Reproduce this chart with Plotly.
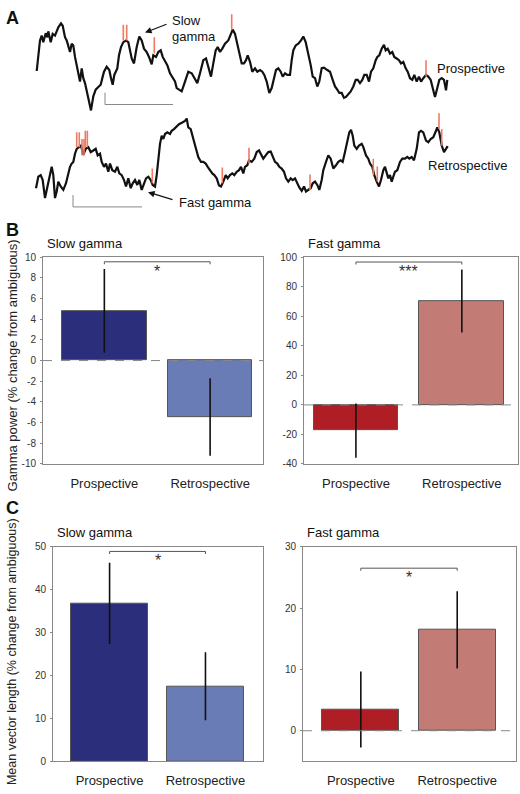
import plotly.graph_objects as go

W, H = 520, 794
FONT = "Liberation Sans, Arial, Helvetica, sans-serif"

# ---------------- data ----------------
categories = ["Prospective", "Retrospective"]

slow_power_mean = [4.8, -5.45]
slow_power_sem = [4.05, 3.75]
fast_power_mean = [-17.4, 70.3]
fast_power_sem = [18.4, 21.3]

slow_mvl_mean = [36.8, 17.5]
slow_mvl_sem = [9.45, 7.9]
fast_mvl_mean = [3.45, 16.45]
fast_mvl_sem = [6.2, 6.3]

sig_labels = ["*", "***", "*", "*"]
sig_heights = [9.55, 96.7, 48.9, 26.5]

slow_power_ticks = [-10, -8, -6, -4, -2, 0, 2, 4, 6, 8, 10]
fast_power_ticks = [-40, -20, 0, 20, 40, 60, 80, 100]
slow_mvl_ticks = [0, 10, 20, 30, 40, 50]
fast_mvl_ticks = [0, 10, 20, 30]

# Panel A example LFP traces (time, amplitude; screen-down axis)
prospective_trace = [
    (36.7, 66), (40, 35), (41.7, 30), (43.3, 36.7), (45.7, 27.7), (47.3, 31.7), (48.3, 25.7), (50.7, 36.7),
    (52.7, 28.3), (55, 30), (58.3, 21.7), (61, 17.7), (62.7, 20), (65, 31.7), (66.7, 35), (68.3, 41.7),
    (70, 46.7), (71.7, 38.3), (73.3, 40), (75, 51.7), (77.3, 63.3), (80, 76.7), (81.7, 63.3), (83.3, 73.3),
    (85, 78.3), (87.3, 88.3), (89.3, 96.7), (91, 106), (93.3, 91.7), (95.7, 85), (98.3, 82.3), (100.7, 80),
    (102.7, 71.7), (104, 66.7), (106.7, 61.7), (109.3, 65), (111, 73.3), (112.7, 80), (114.3, 70), (116, 65),
    (117.3, 63.3), (119, 50), (121, 41.7), (123.3, 36.7), (126, 35), (128.3, 36.7), (130, 46.7), (131.7, 53.3),
    (134, 58.3), (136.7, 41.7), (139.3, 31), (141.7, 35), (144, 43.3), (146.7, 46.7), (149, 51.7), (151.7, 59.3),
    (153.3, 50), (156, 51.7), (158.3, 46.7), (160.7, 45), (162.7, 51.7), (165, 56.7), (167.3, 60), (170, 68.3),
    (172.7, 73.3), (175, 76.7), (176.7, 83.3), (179, 85), (181.7, 86.7), (185, 76.7), (188.3, 66.7), (191.7, 68.3),
    (195, 75), (197.3, 78.3), (200, 68.3), (203.3, 55), (206, 53.3), (208.3, 63.3), (211, 71.7), (213.3, 58.3),
    (215.7, 45), (217.7, 41.7), (220, 46.7), (222.3, 43.3), (225, 38.3), (228.3, 35), (231, 28.3), (232.7, 24),
    (235, 28.3), (237.3, 38.3), (239.3, 48.3), (241.7, 58.3), (244, 58.3), (246, 55), (247.7, 50), (250, 56.7),
    (252.3, 66.7), (255, 63.3), (257.3, 66.7), (260, 65), (262.3, 66.7), (264.3, 70), (266.7, 76.7), (269.3, 88.3),
    (271.7, 83.3), (274, 71.7), (276, 65), (278.3, 63.3), (280.7, 66.7), (282.7, 71.7), (285, 68.3), (287.3, 70),
    (290, 70), (291.7, 55), (293.3, 45), (295.7, 40), (298.3, 38.3), (301, 35), (303.3, 31), (305.7, 36.7),
    (308.3, 48.3), (310.7, 60), (312.7, 71.7), (315, 73.3), (317.3, 81.7), (319.3, 76.7), (321.7, 63), (324, 62.5),
    (327.3, 65), (330, 66.7), (332.7, 75), (335, 81.7), (337.3, 85), (339.3, 88.3), (341.7, 88.3), (344, 93.3),
    (346, 92.3), (348.3, 90), (350.7, 86.7), (353.3, 81.7), (355.7, 75), (357.7, 75), (360, 78.3), (362.3, 75),
    (364.3, 70), (366.7, 70), (369, 76.7), (371, 66.7), (373.3, 63.3), (375.7, 55), (377.3, 51.7), (379.3, 50),
    (381.7, 43.3), (384, 39.3), (385.7, 45), (387.7, 43.3), (390, 48.3), (392.3, 46.7), (394.3, 51.7), (396.7, 53.3),
    (399, 55), (401, 58.3), (403.3, 56.7), (405.7, 63.3), (407.7, 66.7), (410, 73.3), (412.3, 75), (414.3, 70),
    (416.7, 76.7), (419, 71.7), (421, 76.7), (423.3, 73.3), (426, 70), (428.3, 71.7), (430.7, 75), (432.7, 83.3),
    (435, 92.3), (437.3, 83.3), (439.3, 75), (441.7, 73.3), (444, 75), (446, 85.7), (447.3, 75),
]

retrospective_trace = [
    (36, 185), (38.3, 173.3), (40.7, 171.7), (42.7, 176.7), (45, 195), (47.3, 185), (49.3, 175), (51.7, 163.3),
    (53.3, 171.7), (55, 195), (56.7, 188.3), (58.3, 178.3), (60.7, 183.3), (63.3, 186.7), (66, 180), (68.3, 170),
    (70, 163.3), (71.7, 160), (73.3, 158.3), (75, 150), (76.7, 145), (79, 143.3), (81, 141.7), (83.3, 151),
    (85.7, 145), (88.3, 143.3), (90.7, 148.3), (93.3, 146.7), (95.7, 145), (97.7, 151.7), (100, 150), (101.7, 158.3),
    (104, 163.3), (106, 160), (108.3, 168.3), (110, 160), (112.3, 166.7), (115, 168.3), (117.3, 163.3), (119.3, 170),
    (121.7, 171.7), (124, 176.7), (126, 183.3), (128.3, 175), (130.7, 185), (132.7, 180), (135, 176.7), (137.3, 181.7),
    (139.3, 176.7), (141.7, 186.7), (144, 180), (146, 175), (148.3, 173.3), (150.7, 176.7), (152.7, 181.7), (155, 183.3),
    (156.7, 171.7), (158.3, 155), (160, 140), (161.7, 131.7), (163.3, 135), (165, 130), (167.3, 128.3), (170, 130),
    (171.7, 126.7), (174, 125), (176.7, 121.7), (179, 120), (182.3, 118.3), (185, 116.7), (186.7, 114.3), (188.3, 123.3),
    (190.7, 125), (192.7, 131.7), (194.3, 138.3), (196, 145), (198.3, 153.3), (201, 158.3), (203.3, 158.3), (205.7, 160),
    (207.7, 163.3), (210, 166.7), (212.3, 170), (214.3, 171.7), (216.7, 175), (219, 182.3), (221, 183.3), (223.3, 178.3),
    (225.7, 171.7), (227.7, 175), (230, 171.7), (232.3, 170), (234.3, 171.7), (236.7, 168.3), (239, 166.7), (241, 163.3),
    (243.3, 170), (245, 163.3), (247.3, 161.7), (249, 156.7), (251.7, 158.3), (254.3, 155), (256.7, 148.3), (259, 146.7),
    (261, 150), (263.3, 155), (265.7, 151.7), (268.3, 148.3), (270.7, 147.7), (272.7, 153.3), (275, 158.3), (277.3, 160),
    (279.3, 163.3), (281.7, 165), (284, 168.3), (286, 175), (288.3, 178.3), (290.7, 175), (292.7, 176.7), (295, 175),
    (297.3, 180), (299.3, 184.3), (301.7, 187.7), (304, 183.3), (306, 188.3), (308.3, 186.7), (310.7, 185), (312.7, 180),
    (315, 178.3), (317.3, 181.7), (319.3, 186.7), (321.7, 176.7), (323.3, 166.7), (326, 158.3), (328.3, 151.7), (330.7, 155),
    (333.3, 165), (336, 161.7), (338.3, 158.3), (340.7, 156.7), (342.7, 158.3), (345, 148.3), (347.3, 138.3), (349.3, 128.3),
    (351, 125.7), (352.7, 131.7), (354.3, 141.7), (356.7, 145), (359, 141.7), (361.7, 140), (363.3, 143.3), (366, 151.7),
    (368.3, 155), (370, 160), (372.3, 163.3), (374.3, 171.7), (376.7, 178.3), (379, 183.3), (381, 176.7), (383.3, 166.7),
    (385, 163.3), (386.7, 168.3), (388.3, 175), (390, 171.7), (391.7, 178.3), (393.3, 173.3), (395, 168.3), (397.3, 166.7),
    (400, 158.3), (402.3, 155), (405, 155), (407.3, 153.3), (409.3, 155), (411.7, 153.3), (414, 156.7), (416.7, 145),
    (419, 128.3), (421, 126.7), (423.3, 128.3), (426, 136.7), (428.3, 138.3), (430.7, 135), (433.3, 133.3), (436, 126.7),
    (437.3, 123.3), (439.3, 128.3), (441.7, 141.7), (444, 148.3), (446, 145), (447.7, 142.3),
]

# gamma-event marks: (time, top, bottom)
slow_gamma_events = [(123.3, 19, 35), (126.7, 19, 35), (154.3, 31.7, 48.3), (231.7, 8.3, 24), (426, 55, 71.7)]
fast_gamma_events = [(76.7, 128.3, 143.3), (79.3, 128.3, 143.3), (82, 135, 151.7), (84, 135, 151.7),
                     (85.3, 126.7, 143.3), (87.3, 126.7, 143.3), (152.3, 165, 180), (222.3, 164, 180),
                     (249, 144, 160), (310, 171, 186.7), (373.3, 155, 171.7), (377.3, 163, 178.3),
                     (439, 109, 125), (441.7, 125, 141.7)]

# scale bars: (x_start, x_end, y_base, y_top)
scale_bars = [(105, 173, 100, 88), (73, 142, 204, 192)]

# ---------------- helpers ----------------
def px(x):
    return x / W


def py(y):
    return 1 - y / H


fig = go.Figure()

# ---------------- Panel A ----------------
for tr in (prospective_trace, retrospective_trace):
    fig.add_trace(go.Scatter(x=[p[0] for p in tr], y=[p[1] for p in tr], mode="lines",
                             line=dict(color="#111111", width=2.2), xaxis="x", yaxis="y",
                             hoverinfo="skip"))

for events in (slow_gamma_events, fast_gamma_events):
    ex, ey = [], []
    for t, top, bot in events:
        ex += [t, t, None]
        ey += [bot, top, None]
    fig.add_trace(go.Scatter(x=ex, y=ey, mode="lines", line=dict(color="#EE7A62", width=1.6),
                             xaxis="x", yaxis="y", hoverinfo="skip"))

sx, sy = [], []
for x0, x1, yb, yt in scale_bars:
    sx += [x0, x0, x1, None]
    sy += [yt, yb, yb, None]
fig.add_trace(go.Scatter(x=sx, y=sy, mode="lines", line=dict(color="#888888", width=1),
                         xaxis="x", yaxis="y", hoverinfo="skip"))

# ---------------- Panels B & C ----------------
panels = [
    dict(ax="2", xd=(43, 263), yd=(255, 465), xr=(-0.58, 1.5), yr=(-10, 10), mean=slow_power_mean,
         sem=slow_power_sem, colors=["#2B2F7B", "#6A7CB6"], ticks=slow_power_ticks, zero=True, title="Slow gamma"),
    dict(ax="3", xd=(304, 518), yd=(255, 465), xr=(-0.49, 1.53), yr=(-40, 100), mean=fast_power_mean,
         sem=fast_power_sem, colors=["#B01E25", "#C27C75"], ticks=fast_power_ticks, zero=True, title="Fast gamma"),
    dict(ax="4", xd=(53, 263), yd=(549, 767), xr=(-0.59, 1.6), yr=(0, 50), mean=slow_mvl_mean,
         sem=slow_mvl_sem, colors=["#2B2F7B", "#6A7CB6"], ticks=slow_mvl_ticks, zero=False, title="Slow gamma"),
    dict(ax="5", xd=(303, 516), yd=(549, 767), xr=(-0.6, 1.61), yr=(-5, 30), mean=fast_mvl_mean,
         sem=fast_mvl_sem, colors=["#B01E25", "#C27C75"], ticks=fast_mvl_ticks, zero=True, title="Fast gamma"),
]

annotations = []
shapes = []
layout_axes = {}

for i, p in enumerate(panels):
    a = p["ax"]
    fig.add_trace(go.Bar(x=[0, 1], y=p["mean"], width=0.8, xaxis="x" + a, yaxis="y" + a,
                         marker=dict(color=p["colors"], line=dict(color="#555555", width=1)),
                         error_y=dict(type="data", array=p["sem"], color="#111111", thickness=1.6, width=0),
                         hoverinfo="skip"))
    # significance bracket
    span = p["yr"][1] - p["yr"][0]
    h = sig_heights[i]
    d = span * 0.012
    fig.add_trace(go.Scatter(x=[0, 0, 1, 1], y=[h - d, h, h, h - d], mode="lines",
                             line=dict(color="#555555", width=1), xaxis="x" + a, yaxis="y" + a,
                             hoverinfo="skip"))
    annotations.append(dict(x=0.5, y=h, xref="x" + a, yref="y" + a, text=sig_labels[i], showarrow=False,
                            yanchor="top", xanchor="center", font=dict(size=16, color="#333333"), yshift=1))
    if p["zero"]:
        shapes.append(dict(type="line", xref="x" + a + " domain", yref="y" + a, x0=0, x1=1, y0=0, y1=0,
                           line=dict(color="#888888", width=1, dash="dash")))
    layout_axes["xaxis" + a] = dict(domain=[px(p["xd"][0]), px(p["xd"][1])], range=list(p["xr"]),
                                    anchor="y" + a, tickvals=[0, 1], ticktext=categories, ticks="",
                                    showline=True, mirror=True, linecolor="#888888", linewidth=1,
                                    showgrid=False, zeroline=False, ticklabelstandoff=7,
                                    tickfont=dict(size=13, color="#222222"))
    layout_axes["yaxis" + a] = dict(domain=[py(p["yd"][1]), py(p["yd"][0])], range=list(p["yr"]),
                                    anchor="x" + a, tickvals=p["ticks"], ticktext=[str(v) for v in p["ticks"]],
                                    ticks="outside", ticklen=2, tickcolor="#888888",
                                    showline=True, mirror=True, linecolor="#888888", linewidth=1,
                                    showgrid=False, zeroline=False, ticklabelstandoff=2,
                                    tickfont=dict(size=10, color="#333333"))
    annotations.append(dict(x=px(p["xd"][0] + 2), y=py(p["yd"][0] - 14), xref="paper", yref="paper",
                            text=p["title"], showarrow=False, xanchor="left", yanchor="middle",
                            font=dict(size=13, color="#111111")))

# y-axis titles
annotations.append(dict(x=px(12), y=py(365), xref="paper", yref="paper", textangle=-90, showarrow=False,
                        text="Gamma power (% change from ambiguous)", font=dict(size=13, color="#222222"),
                        xanchor="center", yanchor="middle"))
annotations.append(dict(x=px(12), y=py(656), xref="paper", yref="paper", textangle=-90, showarrow=False,
                        text="Mean vector length (% change from ambiguous)", font=dict(size=12.5, color="#222222"),
                        xanchor="center", yanchor="middle"))

# panel letters
for letter, ly in (("A", 12), ("B", 227), ("C", 510)):
    annotations.append(dict(x=px(4), y=py(ly), xref="paper", yref="paper", text="<b>%s</b>" % letter,
                            showarrow=False, xanchor="left", yanchor="middle",
                            font=dict(size=18, color="#111111")))

# panel A labels and arrows
panelA_text = [
    ("Slow", 170, 15), ("gamma", 170, 31), ("Prospective", 435, 63),
    ("Retrospective", 426, 162), ("Fast gamma", 177, 200),
]
for txt, tx, ty in panelA_text:
    annotations.append(dict(x=tx, y=ty, xref="x", yref="y", text=txt, showarrow=False,
                            xanchor="left", yanchor="middle", font=dict(size=13, color="#111111")))

for hx, hy, tx, ty in ((145, 27, 168, 18), (148, 189, 174, 197)):
    annotations.append(dict(x=hx, y=hy, ax=tx, ay=ty, xref="x", yref="y", axref="x", ayref="y",
                            text="", showarrow=True, arrowhead=2, arrowsize=1.1, arrowwidth=1.2,
                            arrowcolor="#111111"))

fig.update_layout(
    width=W, height=H, margin=dict(l=0, r=0, t=0, b=0),
    paper_bgcolor="white", plot_bgcolor="rgba(0,0,0,0)",
    showlegend=False, font=dict(family=FONT, color="#222222"),
    xaxis=dict(domain=[0, 1], range=[0, W], visible=False, anchor="y"),
    yaxis=dict(domain=[py(215), 1], range=[215, 0], visible=False, anchor="x"),
    annotations=annotations, shapes=shapes, bargap=0,
    **layout_axes,
)

fig.write_html("out.html", config={"displayModeBar": False},
               post_script="document.body.style.margin='0px';document.body.style.overflow='hidden';")
